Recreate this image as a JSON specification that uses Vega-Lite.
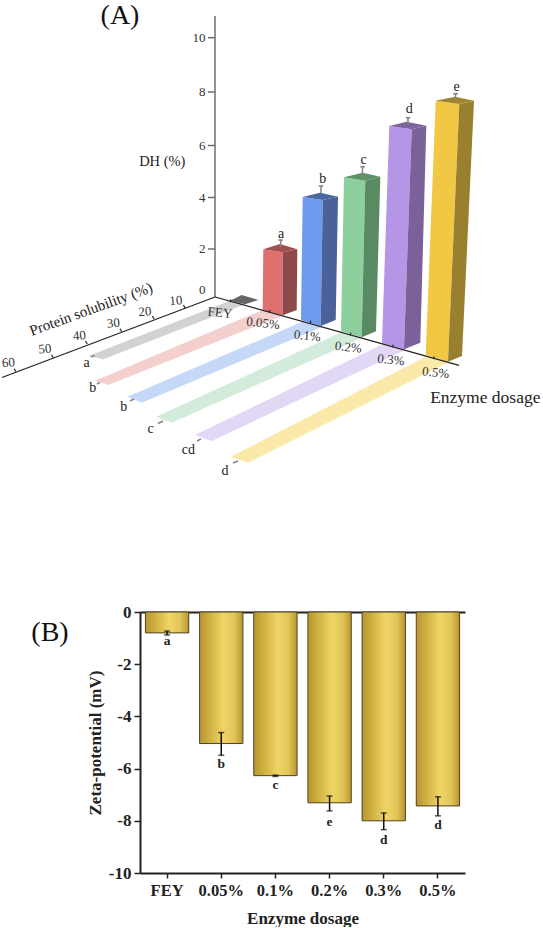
{
"$schema":"https://vega.github.io/schema/vega-lite/v6.json",
"padding":0,"spacing":0,"bounds":"flush",
"config":{"view":{"stroke":null},"font":"Liberation Serif"},
"datasets":{
"faces":[
{"part":"FEY tile","k":1,"u":23.0,"v":30.07},{"part":"FEY tile","k":2,"u":24.17,"v":29.5},{"part":"FEY tile","k":3,"u":25.83,"v":30.0},{"part":"FEY tile","k":4,"u":24.5,"v":30.43},
{"part":"0.05 front","k":1,"u":26.33,"v":24.93},{"part":"0.05 front","k":2,"u":28.27,"v":25.23},{"part":"0.05 front","k":3,"u":28.27,"v":31.53},{"part":"0.05 front","k":4,"u":26.27,"v":31.0},
{"part":"0.05 side","k":1,"u":28.27,"v":25.23},{"part":"0.05 side","k":2,"u":29.73,"v":24.93},{"part":"0.05 side","k":3,"u":29.67,"v":31.0},{"part":"0.05 side","k":4,"u":28.27,"v":31.53},
{"part":"0.05 top","k":1,"u":26.33,"v":24.93},{"part":"0.05 top","k":2,"u":28.0,"v":24.4},{"part":"0.05 top","k":3,"u":29.73,"v":24.93},{"part":"0.05 top","k":4,"u":28.27,"v":25.23},
{"part":"0.1 front","k":1,"u":30.27,"v":19.7},{"part":"0.1 front","k":2,"u":32.27,"v":20.0},{"part":"0.1 front","k":3,"u":32.07,"v":32.6},{"part":"0.1 front","k":4,"u":30.1,"v":32.0},
{"part":"0.1 side","k":1,"u":32.27,"v":20.0},{"part":"0.1 side","k":2,"u":33.8,"v":19.67},{"part":"0.1 side","k":3,"u":33.57,"v":32.0},{"part":"0.1 side","k":4,"u":32.07,"v":32.6},
{"part":"0.1 top","k":1,"u":30.27,"v":19.7},{"part":"0.1 top","k":2,"u":32.0,"v":19.27},{"part":"0.1 top","k":3,"u":33.8,"v":19.67},{"part":"0.1 top","k":4,"u":32.27,"v":20.0},
{"part":"0.2 front","k":1,"u":34.4,"v":17.73},{"part":"0.2 front","k":2,"u":36.53,"v":18.07},{"part":"0.2 front","k":3,"u":36.17,"v":33.73},{"part":"0.2 front","k":4,"u":34.1,"v":33.1},
{"part":"0.2 side","k":1,"u":36.53,"v":18.07},{"part":"0.2 side","k":2,"u":38.03,"v":17.67},{"part":"0.2 side","k":3,"u":37.6,"v":33.13},{"part":"0.2 side","k":4,"u":36.17,"v":33.73},
{"part":"0.2 top","k":1,"u":34.4,"v":17.73},{"part":"0.2 top","k":2,"u":36.27,"v":17.27},{"part":"0.2 top","k":3,"u":38.03,"v":17.67},{"part":"0.2 top","k":4,"u":36.53,"v":18.07},
{"part":"0.3 front","k":1,"u":38.93,"v":12.6},{"part":"0.3 front","k":2,"u":41.17,"v":12.93},{"part":"0.3 front","k":3,"u":40.4,"v":34.93},{"part":"0.3 front","k":4,"u":38.2,"v":34.33},
{"part":"0.3 side","k":1,"u":41.17,"v":12.93},{"part":"0.3 side","k":2,"u":42.63,"v":12.57},{"part":"0.3 side","k":3,"u":42.03,"v":34.27},{"part":"0.3 side","k":4,"u":40.4,"v":34.93},
{"part":"0.3 top","k":1,"u":38.93,"v":12.6},{"part":"0.3 top","k":2,"u":40.67,"v":12.17},{"part":"0.3 top","k":3,"u":42.63,"v":12.57},{"part":"0.3 top","k":4,"u":41.17,"v":12.93},
{"part":"0.5 front","k":1,"u":43.57,"v":10.07},{"part":"0.5 front","k":2,"u":45.93,"v":10.4},{"part":"0.5 front","k":3,"u":44.8,"v":36.17},{"part":"0.5 front","k":4,"u":42.57,"v":35.47},
{"part":"0.5 side","k":1,"u":45.93,"v":10.4},{"part":"0.5 side","k":2,"u":47.4,"v":10.07},{"part":"0.5 side","k":3,"u":46.2,"v":35.6},{"part":"0.5 side","k":4,"u":44.8,"v":36.17},
{"part":"0.5 top","k":1,"u":43.57,"v":10.07},{"part":"0.5 top","k":2,"u":45.5,"v":9.67},{"part":"0.5 top","k":3,"u":47.4,"v":10.07},{"part":"0.5 top","k":4,"u":45.93,"v":10.4}
],
"strips":[
{"part":"FEY","k":1,"u":8.83,"v":35.6},{"part":"FEY","k":2,"u":23.0,"v":30.07},{"part":"FEY","k":3,"u":24.5,"v":30.43},{"part":"FEY","k":4,"u":10.33,"v":35.93},
{"part":"0.05","k":1,"u":9.5,"v":38.07},{"part":"0.05","k":2,"u":26.27,"v":31.0},{"part":"0.05","k":3,"u":28.3,"v":31.53},{"part":"0.05","k":4,"u":10.83,"v":38.5},
{"part":"0.1","k":1,"u":12.73,"v":39.67},{"part":"0.1","k":2,"u":30.3,"v":32.15},{"part":"0.1","k":3,"u":32.2,"v":32.7},{"part":"0.1","k":4,"u":14.17,"v":40.27},
{"part":"0.2","k":1,"u":15.6,"v":41.67},{"part":"0.2","k":2,"u":34.1,"v":33.25},{"part":"0.2","k":3,"u":36.2,"v":33.8},{"part":"0.2","k":4,"u":17.17,"v":42.27},
{"part":"0.3","k":1,"u":19.5,"v":43.5},{"part":"0.3","k":2,"u":38.2,"v":34.45},{"part":"0.3","k":3,"u":40.4,"v":35.05},{"part":"0.3","k":4,"u":21.17,"v":44.1},
{"part":"0.5","k":1,"u":23.07,"v":45.67},{"part":"0.5","k":2,"u":42.57,"v":35.67},{"part":"0.5","k":3,"u":44.8,"v":36.25},{"part":"0.5","k":4,"u":24.83,"v":46.27}
],
"segments":[
{"kind":"zaxis","u":21.5,"v":1.6,"u2":21.5,"v2":29.7},
{"kind":"zaxis","u":20.8,"v":3.77,"u2":21.5,"v2":3.77},{"kind":"zaxis","u":20.8,"v":9.2,"u2":21.5,"v2":9.2},{"kind":"zaxis","u":20.8,"v":14.55,"u2":21.5,"v2":14.55},{"kind":"zaxis","u":20.8,"v":19.75,"u2":21.5,"v2":19.75},{"kind":"zaxis","u":20.8,"v":24.9,"u2":21.5,"v2":24.9},
{"kind":"axis","u":21.5,"v":29.7,"u2":0.2,"v2":37.75},
{"kind":"axis","u":21.5,"v":29.7,"u2":45.9,"v2":36.53},
{"kind":"axis","u":18.5,"v":30.8,"u2":18.35,"v2":30.5},{"kind":"axis","u":15.4,"v":31.9,"u2":15.25,"v2":31.6},{"kind":"axis","u":12.17,"v":33.17,"u2":12.0,"v2":32.87},{"kind":"axis","u":8.73,"v":34.4,"u2":8.55,"v2":34.1},{"kind":"axis","u":5.33,"v":35.77,"u2":5.15,"v2":35.47},{"kind":"axis","u":1.6,"v":37.17,"u2":1.42,"v2":36.87},
{"kind":"axis","u":23.0,"v":30.2,"u2":23.1,"v2":29.95},{"kind":"axis","u":26.9,"v":31.25,"u2":27.0,"v2":31.0},{"kind":"axis","u":31.0,"v":32.33,"u2":31.1,"v2":32.08},{"kind":"axis","u":35.0,"v":33.53,"u2":35.1,"v2":33.28},{"kind":"axis","u":39.23,"v":34.73,"u2":39.33,"v2":34.48},{"kind":"axis","u":43.33,"v":35.9,"u2":43.43,"v2":35.65},
{"kind":"err","u":28.07,"v":24.0,"u2":28.07,"v2":24.67},{"kind":"err","u":27.85,"v":24.0,"u2":28.3,"v2":24.0},
{"kind":"err","u":32.1,"v":18.6,"u2":32.1,"v2":19.3},{"kind":"err","u":31.87,"v":18.6,"u2":32.33,"v2":18.6},
{"kind":"err","u":36.27,"v":16.67,"u2":36.23,"v2":17.5},{"kind":"err","u":36.03,"v":16.67,"u2":36.5,"v2":16.67},
{"kind":"err","u":40.8,"v":11.77,"u2":40.8,"v2":12.4},{"kind":"err","u":40.57,"v":11.77,"u2":41.03,"v2":11.77},
{"kind":"err","u":45.57,"v":9.37,"u2":45.5,"v2":9.93},{"kind":"err","u":45.33,"v":9.37,"u2":45.8,"v2":9.37},
{"kind":"err","u":9.1,"v":35.7,"u2":9.45,"v2":35.55},{"kind":"err","u":9.7,"v":38.4,"u2":10.0,"v2":38.25},{"kind":"err","u":13.0,"v":40.1,"u2":13.4,"v2":39.9},{"kind":"err","u":15.8,"v":42.35,"u2":16.3,"v2":42.1},{"kind":"err","u":19.7,"v":44.1,"u2":20.1,"v2":43.9},{"kind":"err","u":23.3,"v":46.3,"u2":23.8,"v2":46.1}
],
"zeta":[
{"dose":"FEY","z":-0.8,"lo":-0.88,"hi":-0.73,"letter":"a","lv":-1.11},
{"dose":"0.05%","z":-5.04,"lo":-5.49,"hi":-4.62,"letter":"b","lv":-5.82},
{"dose":"0.1%","z":-6.27,"lo":-6.3,"hi":-6.25,"letter":"c","lv":-6.64},
{"dose":"0.2%","z":-7.31,"lo":-7.62,"hi":-7.05,"letter":"e","lv":-8.05},
{"dose":"0.3%","z":-8.0,"lo":-8.34,"hi":-7.7,"letter":"d","lv":-8.74},
{"dose":"0.5%","z":-7.43,"lo":-7.81,"hi":-7.08,"letter":"d","lv":-8.16}
]
},
"vconcat":[
{
"width":543,"height":612,
"resolve":{"scale":{"fill":"independent"}},
"encoding":{
"x":{"field":"u","type":"quantitative","scale":{"domain":[0,54.3],"nice":false,"zero":false},"axis":null},
"y":{"field":"v","type":"quantitative","scale":{"domain":[0,61.2],"reverse":true,"nice":false,"zero":false},"axis":null}
},
"layer":[
{"data":{"name":"strips"},
 "mark":{"type":"line","strokeWidth":0,"interpolate":"linear"},
 "encoding":{"order":{"field":"k"},"detail":{"field":"part"},
 "fill":{"field":"part","type":"nominal","legend":null,"scale":{"domain":["FEY","0.05","0.1","0.2","0.3","0.5"],"range":["#D2D2D2","#F3CFCE","#C6D8F8","#D3EBDA","#E2D7F5","#FAE9A8"]}}}},
{"data":{"name":"faces"},
 "mark":{"type":"line","strokeWidth":0,"interpolate":"linear"},
 "encoding":{"order":{"field":"k"},"detail":{"field":"part"},
 "fill":{"field":"part","type":"nominal","legend":null,"scale":{"domain":["FEY tile","0.05 front","0.05 side","0.05 top","0.1 front","0.1 side","0.1 top","0.2 front","0.2 side","0.2 top","0.3 front","0.3 side","0.3 top","0.5 front","0.5 side","0.5 top"],"range":["#666666","#E0706E","#8E4A4A","#A05050","#6F9BEF","#4A6299","#48689F","#8ECF9E","#5A8A64","#5F9068","#B595E6","#7A6199","#7E649E","#F2C744","#99802E","#A08530"]}}}},
{"data":{"name":"segments"},
 "mark":{"type":"rule"},
 "encoding":{"x2":{"field":"u2"},"y2":{"field":"v2"},
 "color":{"field":"kind","type":"nominal","legend":null,"scale":{"domain":["axis","zaxis","err"],"range":["#222222","#666666","#888888"]}},
 "strokeWidth":{"field":"kind","type":"nominal","legend":null,"scale":{"domain":["axis","zaxis","err"],"range":[1.2,1.6,0.8]}}}},
{"data":{"values":[{"t":"10","u":20.55,"v":3.77},{"t":"8","u":20.55,"v":9.2},{"t":"6","u":20.55,"v":14.55},{"t":"4","u":20.55,"v":19.75},{"t":"2","u":20.55,"v":24.85},{"t":"0","u":20.55,"v":28.95}]},
 "mark":{"type":"text","align":"right","baseline":"middle","fontSize":13,"color":"#333333"},"encoding":{"text":{"field":"t"}}},
{"data":{"values":[{"t":"10","u":17.6,"v":30.07},{"t":"20","u":14.5,"v":31.17},{"t":"30","u":11.33,"v":32.33},{"t":"40","u":7.93,"v":33.57},{"t":"50","u":4.5,"v":34.9},{"t":"60","u":0.83,"v":36.27}]},
 "mark":{"type":"text","align":"center","baseline":"middle","fontSize":13,"angle":355,"color":"#333333"},"encoding":{"text":{"field":"t"}}},
{"data":{"values":[{"t":"FEY","u":22.0,"v":31.27},{"t":"0.05%","u":26.3,"v":32.33},{"t":"0.1%","u":30.73,"v":33.6},{"t":"0.2%","u":34.83,"v":34.73},{"t":"0.3%","u":39.1,"v":36.0},{"t":"0.5%","u":43.57,"v":37.27}]},
 "mark":{"type":"text","align":"center","baseline":"middle","fontSize":13,"angle":6,"color":"#333333"},"encoding":{"text":{"field":"t"}}},
{"data":{"values":[{"t":"a","u":28.1,"v":23.37},{"t":"b","u":32.27,"v":17.9},{"t":"c","u":36.37,"v":16.0},{"t":"d","u":40.93,"v":10.87},{"t":"e","u":45.67,"v":8.67},{"t":"a","u":8.67,"v":36.33},{"t":"b","u":9.27,"v":38.83},{"t":"b","u":12.37,"v":40.67},{"t":"c","u":15.07,"v":42.9},{"t":"cd","u":18.83,"v":45.0},{"t":"d","u":22.5,"v":47.1}]},
 "mark":{"type":"text","align":"center","baseline":"middle","fontSize":14,"color":"#222222"},"encoding":{"text":{"field":"t"}}},
{"data":{"values":[{"t":"DH (%)","u":16.23,"v":16.17}]},
 "mark":{"type":"text","align":"center","baseline":"middle","fontSize":14.5,"color":"#222222"},"encoding":{"text":{"field":"t"}}},
{"data":{"values":[{"t":"Enzyme dosage","u":48.53,"v":39.77}]},
 "mark":{"type":"text","align":"center","baseline":"middle","fontSize":17.5,"color":"#222222"},"encoding":{"text":{"field":"t"}}},
{"data":{"values":[{"t":"Protein solubility (%)","u":9.1,"v":30.9}]},
 "mark":{"type":"text","align":"center","baseline":"middle","fontSize":15,"angle":340,"color":"#222222"},"encoding":{"text":{"field":"t"}}},
{"data":{"values":[{"t":"(A)","u":12.0,"v":1.6},{"t":"(B)","u":5.0,"v":63.27}]},
 "mark":{"type":"text","align":"center","baseline":"middle","fontSize":28,"color":"#111111"},"encoding":{"text":{"field":"t"}}}
]
},
{
"width":543,"height":261,
"data":{"name":"zeta"},
"resolve":{"axis":{"x":"independent"}},
"layer":[
{"mark":{"type":"bar","stroke":"#4F4420","strokeWidth":1,"color":{"x1":0,"y1":0,"x2":1,"y2":0,"gradient":"linear","stops":[{"offset":0,"color":"#B8952F"},{"offset":0.25,"color":"#D2B244"},{"offset":0.55,"color":"#EFD567"},{"offset":0.8,"color":"#E2C558"},{"offset":1,"color":"#B8952F"}]}},
 "encoding":{
 "x":{"field":"dose","type":"nominal","sort":null,"scale":{"range":[140,465],"paddingInner":0.2,"paddingOuter":0.1},
  "axis":{"title":"Enzyme dosage","titleFontSize":17,"titleFontWeight":"bold","titleFont":"Liberation Serif","titleColor":"#222222","titlePadding":12,"labelAngle":0,"labelFontSize":16.5,"labelFontWeight":"bold","labelFont":"Liberation Serif","labelColor":"#222222","labelPadding":4,"domainColor":"#222222","domainWidth":2,"tickColor":"#222222","tickWidth":1.5,"tickSize":5}},
 "y":{"field":"z","type":"quantitative","title":"Zeta-potential (mV)","scale":{"domain":[-10,0],"nice":false,"zero":false},
  "axis":{"offset":-140,"title":"Zeta-potential (mV)","titleFontSize":17,"titleFontWeight":"bold","titleFont":"Liberation Serif","titleColor":"#222222","titlePadding":4,"values":[-10,-9,-8,-7,-6,-5,-4,-3,-2,-1,0],"labelExpr":"datum.value % 2 == 0 ? '' + datum.value : ''","labelFontSize":17,"labelFontWeight":"bold","labelFont":"Liberation Serif","labelColor":"#222222","labelPadding":3,"grid":false,"domainColor":"#222222","domainWidth":2,"tickColor":"#222222","tickWidth":1.5,"tickSize":{"condition":{"test":"datum.value % 2 != 0","value":3},"value":6}}}
 }},
{"mark":{"type":"errorbar","thickness":1.5,"color":"#111111","ticks":{"size":6,"thickness":1.5,"color":"#111111"}},
 "encoding":{"x":{"field":"dose","type":"nominal","sort":null,"axis":null},"y":{"field":"lo","type":"quantitative","title":"Zeta-potential (mV)"},"y2":{"field":"hi"}}},
{"mark":{"type":"text","fontSize":13.5,"fontWeight":"bold","font":"Liberation Serif","baseline":"middle","color":"#222222"},
 "encoding":{"x":{"field":"dose","type":"nominal","sort":null,"axis":null},"y":{"field":"lv","type":"quantitative","title":"Zeta-potential (mV)"},"text":{"field":"letter"}}},
{"mark":{"type":"text","opacity":0},
 "encoding":{"x":{"field":"dose","type":"nominal","sort":null,"axis":{"orient":"top","labels":false,"ticks":false,"title":null,"domainColor":"#222222","domainWidth":2}},"y":{"field":"lv","type":"quantitative","title":"Zeta-potential (mV)"},"text":{"field":"letter"}}}
]
}
]
}
